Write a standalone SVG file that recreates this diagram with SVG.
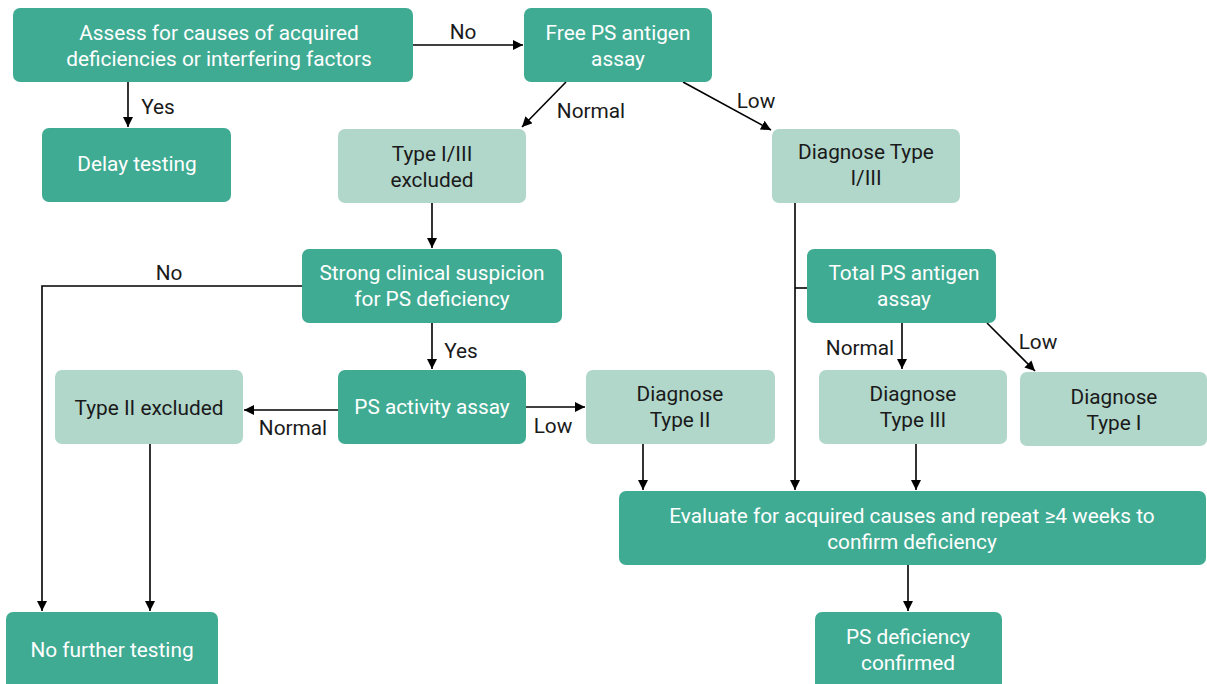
<svg xmlns="http://www.w3.org/2000/svg" width="1207" height="684" viewBox="0 0 1207 684">
<style>
.d{fill:#40ab93}
.l{fill:#b1d6ca}
text{font-family:Roboto,"Liberation Sans",sans-serif;font-size:20.8px;text-anchor:middle}
.wt{fill:#ffffff}
.bt{fill:#1a1a1a}
.lab{fill:#1a1a1a}
.c{stroke:#000;stroke-width:1.6;fill:none}
</style>
<defs>
<marker id="ah" viewBox="0 0 10 10" refX="10" refY="5" markerWidth="10" markerHeight="10" markerUnits="userSpaceOnUse" orient="auto">
<path d="M0,0 L10,5 L0,10 z" fill="#000"/>
</marker>
</defs>
<rect width="1207" height="684" fill="#fff"/>
<g id="connectors">
<path class="c" d="M128,82 V127" marker-end="url(#ah)"/>
<path class="c" d="M413,45 H523" marker-end="url(#ah)"/>
<path class="c" d="M566,82 L522,127" marker-end="url(#ah)"/>
<path class="c" d="M683,82 L771,130" marker-end="url(#ah)"/>
<path class="c" d="M432,203 V248" marker-end="url(#ah)"/>
<path class="c" d="M302,286 H42 V611" marker-end="url(#ah)"/>
<path class="c" d="M432,323 V369" marker-end="url(#ah)"/>
<path class="c" d="M338,410 H244" marker-end="url(#ah)"/>
<path class="c" d="M526,407 H585" marker-end="url(#ah)"/>
<path class="c" d="M150,444 V611" marker-end="url(#ah)"/>
<path class="c" d="M643,444 V490" marker-end="url(#ah)"/>
<path class="c" d="M795,203 V490" marker-end="url(#ah)"/>
<path class="c" d="M795,288 H807"/>
<path class="c" d="M902,323 V369" marker-end="url(#ah)"/>
<path class="c" d="M987,323 L1035,371" marker-end="url(#ah)"/>
<path class="c" d="M916,444 V490" marker-end="url(#ah)"/>
<path class="c" d="M908,565 V611" marker-end="url(#ah)"/>
<text class="lab" x="158" y="114">Yes</text>
<text class="lab" x="463" y="39">No</text>
<text class="lab" x="591" y="118">Normal</text>
<text class="lab" x="756" y="108">Low</text>
<text class="lab" x="169" y="280">No</text>
<text class="lab" x="461" y="358">Yes</text>
<text class="lab" x="293" y="435">Normal</text>
<text class="lab" x="553" y="433">Low</text>
<text class="lab" x="860" y="355">Normal</text>
<text class="lab" x="1038" y="349">Low</text>
</g>
<g id="assess"><rect class="d" x="13" y="8" width="400" height="74" rx="7"/><text class="wt" x="219" y="40">Assess for causes of acquired</text><text class="wt" x="219" y="66">deficiencies or interfering factors</text></g>
<g id="free"><rect class="d" x="524" y="8" width="188" height="74" rx="7"/><text class="wt" x="618" y="40">Free PS antigen</text><text class="wt" x="618" y="66">assay</text></g>
<g id="delay"><rect class="d" x="42" y="128" width="189" height="74" rx="7"/><text class="wt" x="137" y="171">Delay testing</text></g>
<g id="type13excl"><rect class="l" x="338" y="129" width="188" height="74" rx="7"/><text class="bt" x="432" y="161">Type I/III</text><text class="bt" x="432" y="187">excluded</text></g>
<g id="diag13"><rect class="l" x="772" y="129" width="188" height="74" rx="7"/><text class="bt" x="866" y="159">Diagnose Type</text><text class="bt" x="866" y="185">I/III</text></g>
<g id="strong"><rect class="d" x="302" y="249" width="260" height="74" rx="7"/><text class="wt" x="432" y="280">Strong clinical suspicion</text><text class="wt" x="432" y="306">for PS deficiency</text></g>
<g id="total"><rect class="d" x="807" y="249" width="189" height="74" rx="7"/><text class="wt" x="904" y="280">Total PS antigen</text><text class="wt" x="904" y="306">assay</text></g>
<g id="type2excl"><rect class="l" x="55" y="370" width="188" height="74" rx="7"/><text class="bt" x="149" y="415">Type II excluded</text></g>
<g id="activity"><rect class="d" x="338" y="370" width="188" height="74" rx="7"/><text class="wt" x="432" y="414">PS activity assay</text></g>
<g id="diag2"><rect class="l" x="586" y="370" width="189" height="74" rx="7"/><text class="bt" x="680" y="401">Diagnose</text><text class="bt" x="680" y="427">Type II</text></g>
<g id="diag3"><rect class="l" x="819" y="370" width="188" height="74" rx="7"/><text class="bt" x="913" y="401">Diagnose</text><text class="bt" x="913" y="427">Type III</text></g>
<g id="diag1"><rect class="l" x="1020" y="372" width="187" height="74" rx="7"/><text class="bt" x="1114" y="404">Diagnose</text><text class="bt" x="1114" y="430">Type I</text></g>
<g id="evaluate"><rect class="d" x="619" y="491" width="587" height="74" rx="7"/><text class="wt" x="912" y="523">Evaluate for acquired causes and repeat ≥4 weeks to</text><text class="wt" x="912" y="549">confirm deficiency</text></g>
<g id="nofurther"><rect class="d" x="6" y="612" width="212" height="80" rx="7"/><text class="wt" x="112" y="657">No further testing</text></g>
<g id="confirmed"><rect class="d" x="815" y="612" width="187" height="80" rx="7"/><text class="wt" x="908" y="644">PS deficiency</text><text class="wt" x="908" y="670">confirmed</text></g>
</svg>
